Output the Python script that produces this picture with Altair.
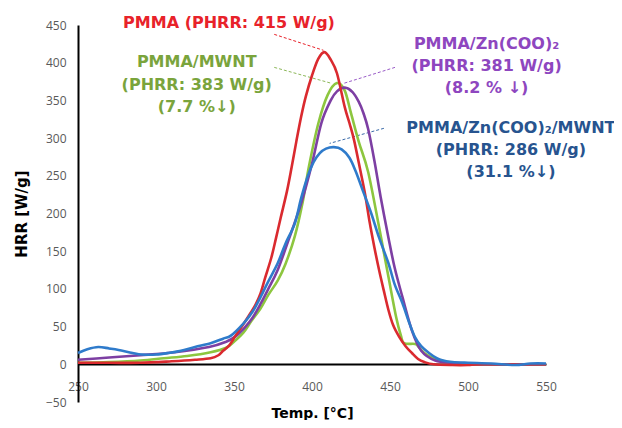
import altair as alt
import pandas as pd

series_names = ["PMMA", "PMMA/MWNT", "PMMA/Zn(COO)2", "PMMA/Zn(COO)2/MWNT"]
line_colors = ["#DA2A2F", "#8DC63F", "#7D3FA3", "#2F7BCB"]
draw_order = ["PMMA/MWNT", "PMMA/Zn(COO)2", "PMMA", "PMMA/Zn(COO)2/MWNT"]

pmma_t = [250, 270, 290, 310, 325, 335, 340, 343, 347, 351, 355, 360, 364, 367, 370, 374, 377, 380,
          384, 387, 390, 393, 396, 400, 404, 408, 412, 416, 421, 424, 427, 431, 434, 437, 440, 443,
          446, 449, 452, 456, 460, 464, 468, 472, 478, 490, 500, 510, 550]
pmma_v = [2, 2, 2, 4, 6, 8, 12, 18, 25, 38, 50, 66, 80, 94, 115, 142, 168, 195,
          230, 262, 296, 328, 355, 383, 405, 414, 404, 386, 341, 320, 297, 257, 226, 188, 155, 125,
          98, 72, 52, 36, 24, 15, 7, 3, 0, -1, -1, 0, 0]

mwnt_t = [250, 270, 290, 305, 320, 335, 345, 350, 356, 361, 367, 372, 378, 383, 389, 394, 398, 404,
          410, 416, 421, 425, 430, 436, 443, 449, 454, 457, 459, 466, 468, 472, 478, 485, 495, 510, 550]
mwnt_v = [2, 3, 5, 8, 11, 16, 22, 30, 42, 57, 74, 92, 111, 133, 170, 215, 262, 319,
          357, 373, 363, 333, 295, 255, 182, 116, 62, 38, 28, 27, 24, 15, 8, 4, 1, 0, 0]

zn_t = [250, 270, 290, 312, 334, 345, 351, 357, 362, 367, 372, 378, 385, 393, 400, 406, 412, 416,
        421, 426, 430, 433, 436, 440, 444, 449, 453, 458, 464, 470, 479, 490, 500, 510, 550]
zn_v = [6, 9, 12, 16, 23, 30, 37, 49, 62, 80, 100, 125, 165, 213, 266, 320, 350, 362,
        367, 361, 348, 333, 312, 270, 222, 168, 128, 89, 45, 18, 5, 2, 1, 0, 0]

znmwnt_t = [250, 256, 263, 270, 276, 285, 291, 300, 308, 316, 325, 335, 343, 348, 356, 362, 367, 372,
            378, 383, 389, 393, 397, 401, 405, 409, 414, 419, 424, 428, 433, 438, 443, 449, 453, 458,
            462, 466, 470, 475, 480, 484, 490, 500, 515, 530, 540, 550]
znmwnt_v = [15, 20, 23, 21, 19, 15, 13, 13, 15, 18, 23, 28, 34, 38, 54, 70, 89, 110,
            134, 160, 187, 220, 248, 268, 280, 286, 288, 285, 274, 256, 228, 200, 168, 134, 106, 81,
            57, 36, 24, 15, 8, 5, 3, 2, 1, -1, 1, 1]

x_ticks = [250, 300, 350, 400, 450, 500, 550]
y_ticks = [-50, 0, 50, 100, 150, 200, 250, 300, 350, 400, 450]

# annotations
ann_text = ["PMMA (PHRR: 415 W/g)",
            "PMMA/MWNT", "(PHRR: 383 W/g)", "(7.7 %↓)",
            "PMMA/Zn(COO)₂", "(PHRR: 381 W/g)", "(8.2 % ↓)",
            "PMMA/Zn(COO)₂/MWNT", "(PHRR: 286 W/g)", "(31.1 %↓)"]
ann_x = [346.8, 326.1, 326.1, 326.1, 511.9, 511.9, 511.9, 527.5, 527.5, 527.5]
ann_y = [452.2, 400.5, 370.0, 340.8, 424.3, 395.1, 366.0, 313.0, 283.8, 254.6]
ann_color = ["#E8222A", "#7AA43C", "#7AA43C", "#7AA43C", "#8E46BF", "#8E46BF", "#8E46BF",
             "#27548F", "#27548F", "#27548F"]

lead_x = [375.8, 375.8, 453.2, 446.1]
lead_y = [437.6, 393.8, 393.8, 313.0]
lead_x2 = [407.4, 412.6, 420.3, 411.3]
lead_y2 = [416.4, 372.6, 372.6, 293.0]
lead_color = ["#E8222A", "#8DB85A", "#9A5CC8", "#3A6AA8"]

rows = []
for name, ts, vs in [("PMMA", pmma_t, pmma_v), ("PMMA/MWNT", mwnt_t, mwnt_v),
                     ("PMMA/Zn(COO)2", zn_t, zn_v), ("PMMA/Zn(COO)2/MWNT", znmwnt_t, znmwnt_v)]:
    for i, (t, v) in enumerate(zip(ts, vs)):
        rows.append({"series": name, "t": t, "v": v, "i": i})
df = pd.DataFrame(rows)

xscale = alt.Scale(domain=[250, 550], nice=False, zero=False)
yscale = alt.Scale(domain=[-50, 450], nice=False)

x_axis = alt.Axis(values=x_ticks, offset=-38, domainColor="black", domainWidth=2, ticks=False,
                  labelPadding=17, labelFont="Open Sans", labelFontSize=12, labelColor="#595959",
                  labelFlush=False, labelOverlap=False,
                  grid=False, title="Temp. [°C]", titleFont="DejaVu Sans", titleFontSize=14,
                  titleFontWeight="bold", titleColor="black", titlePadding=14)
y_axis = alt.Axis(values=y_ticks, domainColor="black", domainWidth=2, ticks=False,
                  labelPadding=12, labelFont="Open Sans", labelFontSize=12, labelColor="#595959",
                  labelFlush=False, labelOverlap=False,
                  grid=False, title="HRR [W/g]", titleFont="DejaVu Sans", titleFontSize=15,
                  titleFontWeight="bold", titleColor="black", titlePadding=16)

X = lambda f: alt.X(f, scale=xscale, axis=x_axis)
Y = lambda f: alt.Y(f, scale=yscale, axis=y_axis)

layers = []
for name in draw_order:
    layer = alt.Chart(df).transform_filter(alt.datum.series == name).mark_line(
        strokeWidth=2.6, interpolate="cardinal"
    ).encode(
        x=X("t:Q"),
        y=Y("v:Q"),
        order="i:Q",
        color=alt.Color("series:N", scale=alt.Scale(domain=series_names, range=line_colors), legend=None),
    )
    layers.append(layer)

ann_df = pd.DataFrame({"x": ann_x, "y": ann_y, "text": ann_text, "color": ann_color})
text_layer = alt.Chart(ann_df).mark_text(
    font="DejaVu Sans", fontSize=16, fontWeight="bold", align="center", baseline="middle"
).encode(
    x=X("x:Q"),
    y=Y("y:Q"),
    text="text:N",
    color=alt.Color("color:N", scale=None),
)

lead_df = pd.DataFrame({"x": lead_x, "y": lead_y, "x2": lead_x2, "y2": lead_y2, "color": lead_color})
lead_layer = alt.Chart(lead_df).mark_rule(strokeDash=[3, 2], strokeWidth=1).encode(
    x=X("x:Q"),
    y=Y("y:Q"),
    x2="x2:Q",
    y2="y2:Q",
    color=alt.Color("color:N", scale=None),
)

chart = alt.layer(lead_layer, *layers, text_layer).resolve_scale(color="independent").properties(
    width=468, height=377,
    autosize=alt.AutoSizeParams(type="none"),
    padding={"left": 70, "top": 17, "right": 68, "bottom": 18},
    background="white",
).configure_view(strokeWidth=0)

chart.save("out.html", embed_options={"renderer": "svg", "actions": False})
